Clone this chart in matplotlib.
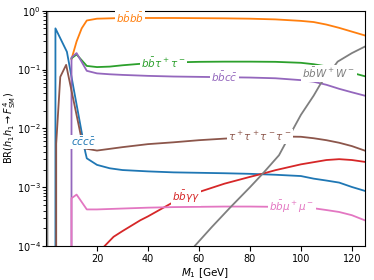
import numpy as np
from matplotlib import pyplot as plt

# BR(h1 h1 -> F^4_SM) vs M1 [GeV]
m_cccc = [3.7, 3.7, 8.2, 15.4, 16, 20, 25, 30, 40, 50, 60, 70, 80, 90, 100, 105, 110, 115, 120, 125]
br_cccc = [0, 0.5, 0.2, 0.0040, 0.0031, 0.0024, 0.0021, 0.00196, 0.00186, 0.00179, 0.00176, 0.00173, 0.00169,
           0.00163, 0.00155, 0.0014, 0.0013, 0.0012, 0.00101, 0.00087]

m_bbbb = [10, 12, 14, 16, 20, 30, 40, 50, 60, 70, 80, 90, 100, 105, 110, 115, 120, 125]
br_bbbb = [0.15, 0.3, 0.5, 0.68, 0.73, 0.75, 0.75, 0.75, 0.745, 0.74, 0.73, 0.71, 0.67, 0.64, 0.58, 0.51, 0.44, 0.38]

m_bbtt = [10, 12, 16, 20, 25, 30, 40, 50, 60, 70, 80, 90, 100, 105, 110, 115, 120, 125]
br_bbtt = [0.155, 0.18, 0.115, 0.11, 0.112, 0.118, 0.128, 0.132, 0.135, 0.136, 0.136, 0.135, 0.13, 0.123,
           0.113, 0.1, 0.088, 0.077]

m_bbaa = [18, 26.5, 30, 37, 40, 50, 60, 70, 80, 85, 90, 100, 110, 115, 120, 125]
br_bbaa = [6e-5, 1.44e-4, 1.8e-4, 2.75e-4, 3.2e-4, 5.6e-4, 8.3e-4, 1.15e-3, 1.5e-3, 1.7e-3, 1.95e-3, 2.45e-3,
           2.9e-3, 3.0e-3, 2.9e-3, 2.7e-3]

m_bbcc = [10, 10, 12, 16, 20, 25, 30, 40, 50, 60, 70, 80, 90, 100, 105, 110, 115, 120, 125]
br_bbcc = [0, 0.16, 0.19, 0.095, 0.086, 0.083, 0.081, 0.078, 0.076, 0.075, 0.074, 0.073, 0.071, 0.066, 0.062,
           0.055, 0.047, 0.041, 0.036]

m_tttt = [4, 4, 5.6, 7.9, 14.7, 16, 20, 30, 40, 50, 60, 70, 80, 90, 100, 105, 110, 115, 120, 125]
br_tttt = [0, 0.0055, 0.075, 0.12, 0.0046, 0.0045, 0.0042, 0.0048, 0.0054, 0.0058, 0.0063, 0.0067, 0.0071,
           0.0073, 0.0072, 0.0068, 0.0063, 0.0057, 0.005, 0.0042]

m_bbmm = [10, 10, 12, 16, 20, 30, 40, 50, 60, 70, 80, 90, 100, 105, 110, 115, 120, 125]
br_bbmm = [0, 6.5e-4, 7.5e-4, 4.2e-4, 4.2e-4, 4.35e-4, 4.5e-4, 4.6e-4, 4.65e-4, 4.7e-4, 4.7e-4, 4.65e-4,
           4.55e-4, 4.4e-4, 4.1e-4, 3.8e-4, 3.35e-4, 2.75e-4]

m_bbww = [0.5, 0.5, 0.55, 50, 55, 58.3, 65, 72.4, 80, 85, 91.4, 96, 100, 105, 107.8, 110, 114.4, 120, 125]
br_bbww = [0, 5, 0, 0, 5e-5, 1e-4, 2.1e-4, 4.6e-4, 1.0e-3, 1.7e-3, 3.5e-3, 8.2e-3, 0.017, 0.036, 0.058, 0.075,
           0.136, 0.19, 0.244]

labels = [r'$c\bar{c}c\bar{c}$', r'$b\bar{b}b\bar{b}$', r'$b\bar{b}\tau^+\tau^-$', r'$b\bar{b}\gamma\gamma$',
          r'$b\bar{b}c\bar{c}$', r'$\tau^+\tau^+\tau^-\tau^-$', r'$b\bar{b}\mu^+\mu^-$', r'$b\bar{b}W^+W^-$']
label_x = [14.7, 33, 46, 55, 70, 84, 96.5, 111]

series = [(m_cccc, br_cccc), (m_bbbb, br_bbbb), (m_bbtt, br_bbtt), (m_bbaa, br_bbaa),
          (m_bbcc, br_bbcc), (m_tttt, br_tttt), (m_bbmm, br_bbmm), (m_bbww, br_bbww)]

fig = plt.figure(figsize=(3.74, 2.8), dpi=100)
ax = fig.add_axes([0.123, 0.121, 0.852, 0.841])
ax.set_yscale('log')

for i, ((m, br), lab, lx) in enumerate(zip(series, labels, label_x)):
    c = f'C{i}'
    ax.plot(m, br, color=c, linewidth=1.3)
    # label sits on the curve, like labelLines
    m_a = np.array(m, dtype=float)
    br_a = np.array(br, dtype=float)
    keep = br_a > 0
    m_a, br_a = m_a[keep], br_a[keep]
    if lx > 20:
        keep = m_a >= 16
        m_a, br_a = m_a[keep], br_a[keep]
    ly = 10 ** np.interp(lx, m_a, np.log10(br_a))
    ax.text(lx, ly, lab, color=c, fontsize=7.5, ha='center', va='center', zorder=10,
            bbox=dict(boxstyle='square,pad=0.1', facecolor='white', edgecolor='none'))

ax.set_xlim(0, 125)
ax.set_ylim(1e-4, 1)
ax.set_xticks([20, 40, 60, 80, 100, 120])
ax.tick_params(labelsize=7, pad=2)
ax.tick_params(axis='y', which='major', length=3, pad=0.8)
ax.set_xlabel(r'$M_1$ [GeV]', fontsize=7.5)
ax.set_ylabel(r'BR$(h_1 h_1 \to F^4_{\rm SM})$', fontsize=7)
ax.xaxis.set_label_coords(0.5, -0.085)
ax.yaxis.set_label_coords(-0.087, 0.5)

plt.savefig('out.png', dpi=100)
